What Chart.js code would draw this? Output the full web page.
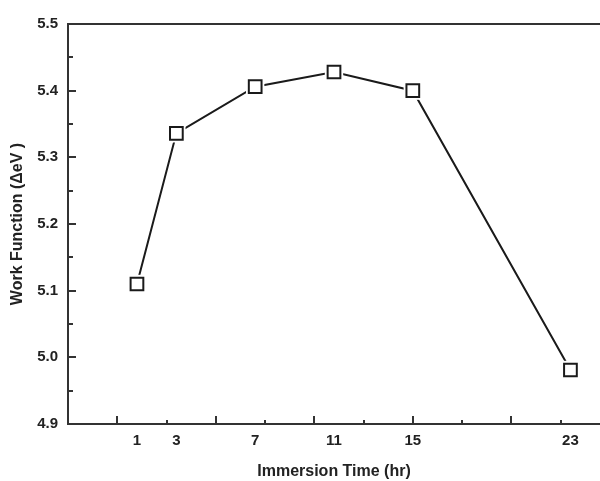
<!DOCTYPE html>
<html>
<head>
<meta charset="utf-8">
<script src="https://cdn.jsdelivr.net/npm/chart.js@4"></script>
<style>
  html, body { margin: 0; padding: 0; background: #fff; overflow: hidden; }
  #wrap { width: 600px; height: 481px; position: relative; }
</style>
</head>
<body>
<div id="wrap"><canvas id="chart"></canvas></div>
<script>
// === DATOS ===
const hours = [1, 3, 7, 11, 15, 23];                           // immersion time (hr)
const workFunction = [5.110, 5.336, 5.406, 5.428, 5.400, 4.981]; // work function (eV)
const xTickLabels = [1, 3, 7, 11, 15, 23];
const yTickLabels = [4.9, 5.0, 5.1, 5.2, 5.3, 5.4, 5.5];

const ink = '#222';
const axisColor = '#333';
const font = { family: "'Liberation Sans', Arial, sans-serif", weight: 'bold' };

const points = hours.map((h, i) => ({ x: h, y: workFunction[i] }));

// ticks hacia adentro + linea superior del marco (estilo Origin)
const innerTicks = {
  id: 'innerTicks',
  afterDraw(chart) {
    const { ctx, chartArea: a, scales } = chart;
    ctx.save();
    ctx.strokeStyle = axisColor;
    ctx.lineWidth = 2;
    ctx.beginPath();
    ctx.moveTo(a.left, a.top);
    ctx.lineTo(a.right + 2, a.top);

    const sx = scales.x, xs = 2.5;
    for (let i = Math.ceil(sx.min / xs - 1e-9); i * xs <= sx.max + 1e-9; i++) {
      const px = Math.round(sx.getPixelForValue(i * xs));
      const len = i % 2 === 0 ? 8 : 4;
      ctx.moveTo(px, a.bottom);
      ctx.lineTo(px, a.bottom - len);
    }

    const sy = scales.y, ys = 0.05;
    for (let i = Math.ceil(sy.min / ys - 1e-9); i * ys <= sy.max + 1e-9; i++) {
      const py = Math.round(sy.getPixelForValue(i * ys));
      const len = i % 2 === 0 ? 8 : 5;
      ctx.moveTo(a.left, py);
      ctx.lineTo(a.left + len, py);
    }
    ctx.stroke();
    ctx.restore();
  }
};

new Chart(document.getElementById('chart').getContext('2d'), {
  type: 'scatter',
  data: {
    datasets: [
      { // linea
        data: points, showLine: true, borderColor: '#1a1a1a', borderWidth: 2,
        pointRadius: 0, order: 3
      },
      { // hueco blanco alrededor de cada marcador
        data: points, showLine: false, pointStyle: 'rect', pointRadius: 13,
        pointBackgroundColor: '#fff', pointBorderWidth: 0, order: 2
      },
      { // cuadrados abiertos
        data: points, showLine: false, pointStyle: 'rect', pointRadius: 9,
        pointBackgroundColor: '#fff', pointBorderColor: '#1a1a1a', pointBorderWidth: 2, order: 1
      }
    ]
  },
  options: {
    responsive: true,
    maintainAspectRatio: false,
    animation: false,
    layout: { autoPadding: false, padding: { top: 24, right: 0, left: 0, bottom: 0 } },
    plugins: { legend: { display: false }, tooltip: { enabled: false } },
    scales: {
      x: {
        type: 'linear', min: -2.5, max: 24.5,
        grid: { display: false, drawTicks: false },
        border: { display: true, color: axisColor, width: 2 },
        afterBuildTicks: s => { s.ticks = xTickLabels.map(v => ({ value: v })); },
        afterFit: s => { s.height = 57; s.paddingLeft = 0; s.paddingRight = 0; },
        ticks: {
          autoSkip: false, maxRotation: 0, padding: 8, color: ink,
          font: { ...font, size: 15 },
          callback: v => String(v)
        },
        title: {
          display: true, text: 'Immersion Time (hr)', color: ink,
          font: { ...font, size: 16 }, padding: { top: 0, bottom: 0 }
        }
      },
      y: {
        min: 4.9, max: 5.5,
        grid: { display: false, drawTicks: false },
        border: { display: true, color: axisColor, width: 2 },
        afterBuildTicks: s => { s.ticks = yTickLabels.map(v => ({ value: v })); },
        afterFit: s => { s.width = 68; },
        ticks: {
          padding: 10, color: ink,
          font: { ...font, size: 15 },
          callback: v => Number(v).toFixed(1)
        },
        title: {
          display: true, text: 'Work Function (ΔeV )', color: ink,
          font: { ...font, size: 16 }, padding: { top: 8, bottom: 0 }
        }
      }
    }
  },
  plugins: [innerTicks]
});
</script>
</body>
</html>
